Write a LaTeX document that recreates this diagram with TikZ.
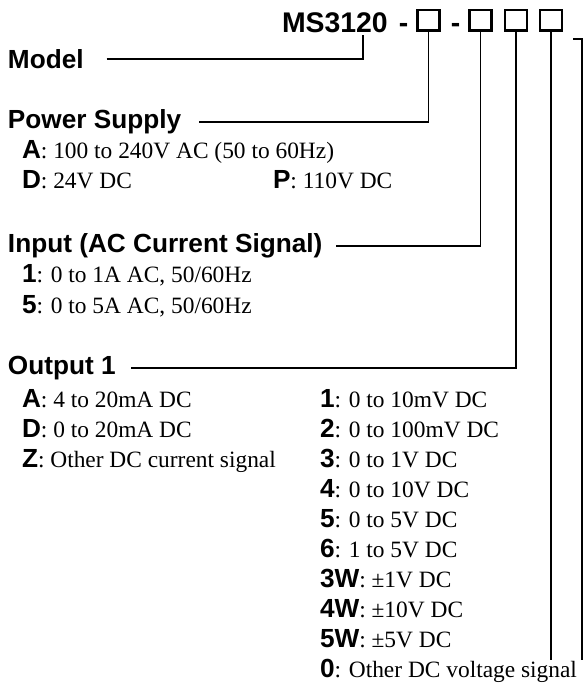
\documentclass[tikz,border=0pt]{standalone}
\usepackage{fontspec}
\setmainfont{Liberation Serif}
\setsansfont{Liberation Sans}
\newcommand\K[1]{{\fontsize{13.1}{15}\sffamily\bfseries #1}}
\tikzset{
  lbl/.style={inner sep=0pt, outer sep=0pt},
  head/.style={lbl, anchor=west, font=\fontsize{13.1}{15}\sffamily\bfseries},
  item/.style={lbl, anchor=base west, font=\fontsize{11.7}{14}\rmfamily},
  titletext/.style={lbl, anchor=base west, font=\fontsize{14.2}{16}\sffamily\bfseries},
  conn/.style={line width=0.6pt, black},
  codebox/.style={draw, line width=1.25pt, minimum width=11pt, minimum height=10.25pt, inner sep=0pt, outer sep=0pt}
}
\begin{document}
\begin{tikzpicture}[x=0.5pt, y=-0.5pt]
\useasboundingbox (0,0) rectangle (583,689);
% title
\node[titletext] (title) at (282,33) {MS3120};
\node[titletext, anchor=base] (dash1) at (403.5,33) {-};
\node[titletext, anchor=base] (dash2) at (455.5,33) {-};
\node[codebox] (b1) at (428.5,20.5) {};
\node[codebox] (b2) at (480.5,20.5) {};
\node[codebox] (b3) at (516,20.5) {};
\node[codebox] (b4) at (551,20.5) {};
% headings
\node[head] (model) at (8,59) {Model};
\node[head] (power) at (8,122) {Power Supply};
\node[head] (input) at (8,246) {Input (AC Current Signal)};
\node[head] (output) at (8,368) {Output 1};
% power items
\node[item] (pA) at (22,159) {\K{A}: 100 to 240V AC (50 to 60Hz)};
\node[item] (pD) at (22,189) {\K{D}: 24V DC};
\node[item] (pP) at (273,189) {\K{P}: 110V DC};
% input items
\node[item] (i1) at (22,283) {\K{1}: 0 to 1A AC, 50/60Hz};
\node[item] (i5) at (22,313) {\K{5}: 0 to 5A AC, 50/60Hz};
% output left
\node[item] (oA) at (22,407) {\K{A}: 4 to 20mA DC};
\node[item] (oD) at (22,437) {\K{D}: 0 to 20mA DC};
\node[item] (oZ) at (22,467) {\K{Z}: Other DC current signal};
% output right
\node[item] (o1) at (320,407) {\K{1}: 0 to 10mV DC};
\node[item] (o2) at (320,437) {\K{2}: 0 to 100mV DC};
\node[item] (o3) at (320,467) {\K{3}: 0 to 1V DC};
\node[item] (o4) at (320,497) {\K{4}: 0 to 10V DC};
\node[item] (o5) at (320,527) {\K{5}: 0 to 5V DC};
\node[item] (o6) at (320,557) {\K{6}: 1 to 5V DC};
\node[item] (o3W) at (320,587) {\K{3W}: \textpm1V DC};
\node[item] (o4W) at (320,617) {\K{4W}: \textpm10V DC};
\node[item] (o5W) at (320,647) {\K{5W}: \textpm5V DC};
\node[item] (o0) at (320,677) {\K{0}: Other DC voltage signal};
% connectors
\coordinate (mk) at (363,35);
\draw[conn] ([xshift=11.5pt]model.east) -| (mk);
\draw[conn] (b1.south) |- ([xshift=9pt]power.east);
\draw[conn] (b2.south) |- ([xshift=7pt]input.east);
\draw[conn] (b3.south) |- ([xshift=7.5pt]output.east);
\coordinate (e4) at (552,660);
\draw[conn] (b4.south) -- (b4.south |- e4);
\coordinate (r1) at (573,39);
\coordinate (r2) at (582,39);
\coordinate (r3) at (582,660);
\draw[conn] (r1) -- (r2) -- (r3);
\end{tikzpicture}
\end{document}
